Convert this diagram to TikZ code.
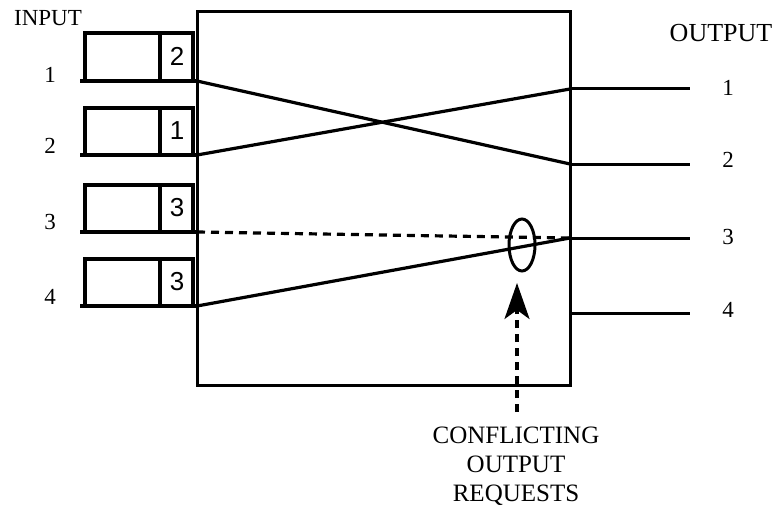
\documentclass[tikz,border=0pt]{standalone}
\usepackage{fontspec}
\setmainfont{Liberation Serif}
\newfontfamily\qfont{Liberation Sans}
\usetikzlibrary{arrows.meta}
\begin{document}
\begin{tikzpicture}[x=1pt,y=-1pt,
  lbl/.style={font=\fontsize{23}{26}\selectfont, inner sep=0pt},
  qnum/.style={font=\qfont\fontsize{26}{28}\selectfont, inner sep=0pt},
  switchbox/.style={line width=3pt},
  qbox/.style={line width=3.2pt},
  qline/.style={line width=4.4pt},
  path/.style={line width=3.2pt},
  req/.style={line width=3.2pt, dash pattern=on 8pt off 6pt},
  outline/.style={line width=3pt}]
\useasboundingbox (0,0) rectangle (776,508);

% switch fabric
\draw[switchbox] (197,12) rectangle (570,385);

% port coordinates
\foreach \i/\y in {1/81,2/155,3/232,4/306} {
  \coordinate (in\i) at (197,\y);
  \coordinate (qs\i) at (80,\y);
}
\foreach \i/\y in {1/89,2/164,3/238,4/313} {
  \coordinate (out\i) at (570,\y);
  \coordinate (oe\i) at (690,\y);
}

% input queues (cell area and head-of-line cell)
\foreach \i/\t/\n in {1/33/2,2/108/1,3/185/3,4/259/3} {
  \pgfmathsetmacro{\b}{\t+47}
  \draw[qbox] (85,\b) -- (85,\t) -- (193,\t) -- (193,\b);
  \draw[qbox] (160,\t) -- (160,\b);
  \node[qnum] (hol\i) at (177,\t+23) {\n};
  \draw[qline] (qs\i) -- (in\i);
}

% input and output labels
\node[lbl] (inlbl) at (48,18) {INPUT};
\node[lbl, font=\fontsize{26}{28}\selectfont] (outlbl) at (721,33) {OUTPUT};
\foreach \i/\y in {1/75,2/146,3/222,4/297}
  \node[lbl] (il\i) at (50,\y) {\i};
\foreach \i/\y in {1/88,2/160,3/237,4/310}
  \node[lbl] (ol\i) at (728,\y) {\i};

% output lines
\foreach \i in {1,...,4}
  \draw[outline] (out\i) -- (oe\i);

% connections through the fabric
\draw[path] (in1) -- (out2);
\draw[path] (in2) -- (out1);
\draw[path] (in4) -- (out3);
\draw[req] (in3) -- (out3);

% conflict marker
\draw[line width=3pt] (522,245) ellipse [x radius=13pt, y radius=26pt];
\coordinate (ctip) at (517,283);
\node[lbl, align=center, font=\fontsize{25}{29}\selectfont] (note) at (516,466)
  {CONFLICTING\\OUTPUT\\REQUESTS};
\draw[req, -{Stealth[length=36pt,width=25pt,inset=9pt]}] (517,412) -- (ctip);
\end{tikzpicture}
\end{document}
